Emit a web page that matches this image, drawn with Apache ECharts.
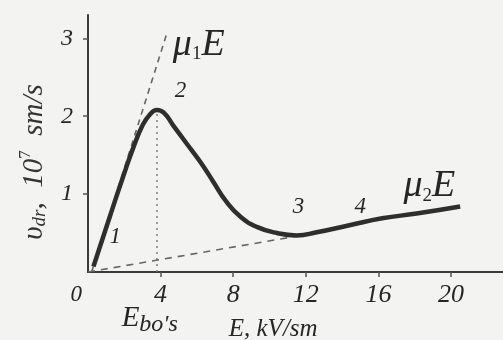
<!DOCTYPE html>
<html>
<head>
<meta charset="utf-8">
<script src="https://cdn.jsdelivr.net/npm/echarts@6/dist/echarts.min.js"></script>
<style>
  html, body { margin: 0; padding: 0; background: #f3f3f1; }
  #chart { width: 503px; height: 340px; }
</style>
</head>
<body>
<div id="chart"></div>
<script>
// drift velocity curve, E in kV/sm, v in 10^7 sm/s
var fieldE = [0.3, 1.2, 1.9, 2.5, 3.0, 3.4, 3.8, 4.2, 4.7, 5.4, 6.2, 6.9, 7.6, 8.4, 9.3, 10.4, 11.5, 12.6, 14.4, 16.2, 18.1, 20.5];
var driftV = [0.07, 0.71, 1.2, 1.6, 1.88, 2.02, 2.08, 2.04, 1.88, 1.66, 1.41, 1.16, 0.91, 0.71, 0.58, 0.50, 0.47, 0.51, 0.60, 0.69, 0.75, 0.84];

// asymptotes mu1*E and mu2*E
var mu1E = [[0.2, 0], [4.35, 3.07]];
var mu2E = [[0, 0], [11.5, 0.46]];
// threshold field E_bo's
var peakE = 3.8;
var peakV = 2.08;

var xTicks = [4, 8, 12, 16, 20];
var yTicks = [1, 2, 3];

// text notes placed at data positions: [E, v, text]
var notes = [
    [6.1, 2.92, 'mu1'],
    [5.1, 2.32, '2'],
    [1.5, 0.45, '1'],
    [11.6, 0.83, '3'],
    [15.0, 0.83, '4'],
    [18.8, 1.1, 'mu2'],
    [-0.65, -0.3, '0'],
    [3.4, -0.6, 'ebo'],
    [10.2, -0.74, 'ex']
];

var serif = 'Liberation Serif';
var ink = '#262626';

var chart = echarts.init(document.getElementById('chart'));

var noteRich = {
    big: {fontFamily: serif, fontStyle: 'italic', fontSize: 38, color: ink},
    sub: {fontFamily: serif, fontSize: 19, color: ink, verticalAlign: 'bottom', padding: [16, 0, 0, 0]},
    num: {fontFamily: serif, fontStyle: 'italic', fontSize: 23, color: ink},
    e: {fontFamily: serif, fontStyle: 'italic', fontSize: 29, color: ink},
    eb: {fontFamily: serif, fontStyle: 'italic', fontSize: 24, color: ink, padding: [12, 0, 0, 0]},
    ax: {fontFamily: serif, fontStyle: 'italic', fontSize: 25, color: ink}
};

function noteText(p) {
    var t = p.value[2];
    if (t === 'mu1') return '{big|\u03bc}{sub|1}{big|E}';
    if (t === 'mu2') return '{big|\u03bc}{sub|2}{big|E}';
    if (t === 'ebo') return '{e|E}{eb|bo\'s}';
    if (t === 'ex') return '{ax|E, kV/sm}';
    return '{num|' + t + '}';
}

var option = {
    backgroundColor: '#f3f3f1',
    animation: false,
    grid: {left: 88, right: 0, top: 15, bottom: 68},
    xAxis: {
        type: 'value',
        min: 0,
        max: 22.86,
        interval: 4,
        splitLine: {show: false},
        axisLine: {lineStyle: {color: '#3a3a3a', width: 2}},
        axisTick: {show: true, length: 5, lineStyle: {color: '#555', width: 1.5},
            customValues: xTicks},
        axisLabel: {
            customValues: xTicks,
            fontFamily: serif, fontStyle: 'italic', fontSize: 26, color: ink,
            margin: 10
        }
    },
    yAxis: {
        type: 'value',
        min: 0,
        max: 3.3,
        interval: 1,
        splitLine: {show: false},
        axisLine: {show: true, lineStyle: {color: '#3a3a3a', width: 2}},
        axisTick: {show: true, length: 5, lineStyle: {color: '#555', width: 1.5},
            customValues: yTicks},
        axisLabel: {
            customValues: yTicks,
            fontFamily: serif, fontStyle: 'italic', fontSize: 24, color: ink,
            margin: 15
        }
    },
    graphic: [{
        type: 'text',
        x: 34,
        y: 162,
        rotation: Math.PI / 2,
        style: {
            text: '{a|\u03c5}{s|dr}{a|,  10}{p|7}{a|  sm/s}',
            align: 'center',
            verticalAlign: 'middle',
            rich: {
                a: {fontFamily: serif, fontStyle: 'italic', fontSize: 29, fill: '#333'},
                s: {fontFamily: serif, fontStyle: 'italic', fontSize: 19, fill: '#333', padding: [12, 0, 0, 0]},
                p: {fontFamily: serif, fontSize: 17, fill: '#333', padding: [0, 0, 16, 0]}
            }
        }
    }],
    series: [
        {
            type: 'line',
            data: mu1E,
            symbol: 'none',
            lineStyle: {color: '#666', width: 1.6, type: [6, 5]},
            z: 1
        },
        {
            type: 'line',
            data: mu2E,
            symbol: 'none',
            lineStyle: {color: '#666', width: 1.6, type: [7, 6]},
            z: 1
        },
        {
            type: 'line',
            data: [[peakE, 0], [peakE, peakV]],
            symbol: 'none',
            lineStyle: {color: '#777', width: 1.4, type: [2, 4]},
            z: 1
        },
        {
            type: 'line',
            data: fieldE.map(function (e, i) { return [e, driftV[i]]; }),
            symbol: 'none',
            smooth: 0.5,
            lineStyle: {color: '#2e2e2e', width: 4.5},
            z: 3
        },
        {
            type: 'scatter',
            data: notes,
            symbolSize: 0,
            clip: false,
            silent: true,
            itemStyle: {opacity: 1},
            label: {
                show: true,
                position: 'inside',
                formatter: noteText,
                rich: noteRich
            },
            z: 4
        }
    ]
};

chart.setOption(option);
</script>
</body>
</html>
